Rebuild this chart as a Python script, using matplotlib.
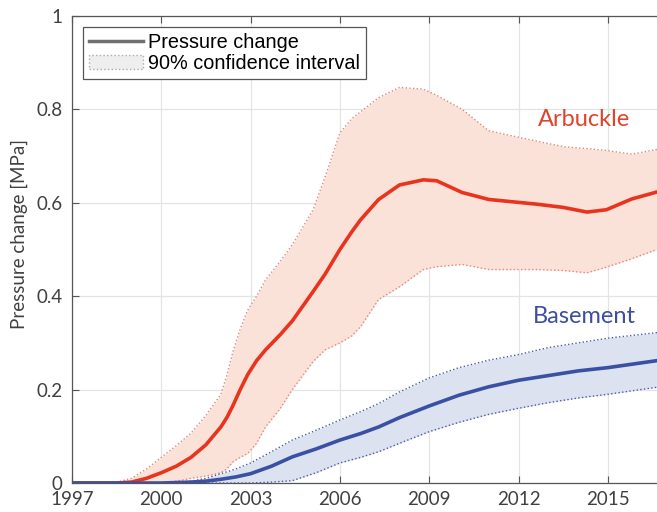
import matplotlib.pyplot as plt
from matplotlib.lines import Line2D
from matplotlib.patches import Patch

# Arbuckle
arb_year = [1997, 1998, 1998.5, 1999, 1999.5, 2000, 2000.5, 2001, 2001.5, 2002, 2002.2, 2002.4,
            2002.65, 2002.9, 2003.2, 2003.5, 2004, 2004.4, 2005.1, 2005.5, 2006, 2006.4, 2006.7,
            2007.3, 2008, 2008.8, 2009.25, 2010.1, 2011, 2012.6, 2013.5, 2014.3, 2014.95,
            2015.8, 2016.65]
arb_mean = [0, 0, 0, 0.002, 0.01, 0.022, 0.036, 0.055, 0.082, 0.12, 0.14, 0.165,
            0.2, 0.232, 0.262, 0.285, 0.318, 0.347, 0.41, 0.447, 0.5, 0.538, 0.564,
            0.607, 0.638, 0.649, 0.647, 0.622, 0.607, 0.597, 0.59, 0.58, 0.585,
            0.608, 0.623]
arb_hi = [0, 0, 0.002, 0.01, 0.03, 0.055, 0.08, 0.107, 0.145, 0.19, 0.23, 0.28,
          0.33, 0.37, 0.4, 0.435, 0.475, 0.51, 0.585, 0.655, 0.75, 0.78, 0.795,
          0.825, 0.847, 0.843, 0.83, 0.80, 0.754, 0.732, 0.72, 0.716, 0.712,
          0.704, 0.714]
arb_lo = [0, 0, 0, 0, 0, 0, 0.004, 0.01, 0.015, 0.022, 0.03, 0.045,
          0.055, 0.063, 0.085, 0.12, 0.16, 0.2, 0.26, 0.285, 0.3, 0.315, 0.335,
          0.393, 0.42, 0.457, 0.463, 0.468, 0.457, 0.457, 0.455, 0.45, 0.462,
          0.48, 0.5]

# Basement
bas_year = [1997, 1999, 2000, 2001, 2001.5, 2002, 2002.5, 2003, 2003.7, 2004.4, 2005.2, 2006,
            2006.7, 2007.3, 2008, 2009, 2010, 2011, 2012, 2013, 2014, 2015, 2016.65]
bas_mean = [0, 0, 0, 0.002, 0.004, 0.008, 0.013, 0.02, 0.036, 0.056, 0.073, 0.092,
            0.106, 0.12, 0.14, 0.165, 0.188, 0.206, 0.22, 0.23, 0.24, 0.247, 0.262]
bas_hi = [0, 0, 0, 0.004, 0.01, 0.02, 0.03, 0.043, 0.067, 0.092, 0.113, 0.135,
          0.153, 0.17, 0.195, 0.225, 0.247, 0.263, 0.275, 0.29, 0.3, 0.31, 0.322]
bas_lo = [0, 0, 0, 0, 0, 0, 0, 0, 0.002, 0.005, 0.022, 0.043,
          0.055, 0.067, 0.085, 0.11, 0.13, 0.147, 0.16, 0.172, 0.182, 0.19, 0.205]

x_ticks = [1997, 2000, 2003, 2006, 2009, 2012, 2015]
y_ticks = [0, 0.2, 0.4, 0.6, 0.8, 1]
y_labels = ['0', '0.2', '0.4', '0.6', '0.8', '1']

red = '#e8341f'
blue = '#3a50a2'

fig = plt.figure(figsize=(6.57, 5.12), dpi=100)
ax = fig.add_axes([0.1096, 0.0566, 0.8904, 0.9124])

ax.fill_between(arb_year, arb_lo, arb_hi, color='#fbe2d8', lw=0, zorder=1)
ax.plot(arb_year, arb_hi, ls=':', color='#e08a7a', lw=1, zorder=2)
ax.plot(arb_year, arb_lo, ls=':', color='#e08a7a', lw=1, zorder=2)

ax.fill_between(bas_year, bas_lo, bas_hi, color='#dce2f0', lw=0, zorder=1)
ax.plot(bas_year, bas_hi, ls=':', color='#4a5aa8', lw=1, zorder=2)
ax.plot(bas_year, bas_lo, ls=':', color='#4a5aa8', lw=1, zorder=2)

ax.plot(arb_year, arb_mean, color=red, lw=2.6, zorder=3)
ax.plot(bas_year, bas_mean, color=blue, lw=2.6, zorder=4)

ax.text(2014.2, 0.779, 'Arbuckle', color='#e0432c', fontsize=17, family='Lato',
        ha='center', va='center')
ax.text(2014.2, 0.356, 'Basement', color='#3d4f9e', fontsize=17, family='Lato',
        ha='center', va='center')

ax.set_xlim(1997, 2016.65)
ax.set_ylim(0, 1)
ax.set_xticks(x_ticks)
ax.set_yticks(y_ticks)
ax.set_yticklabels(y_labels)
ax.grid(True, color='#e4e4e4', lw=0.9)
ax.set_axisbelow(True)
ax.tick_params(direction='in', length=5, top=True, right=False, colors='#555555',
               labelcolor='#404040', labelsize=13.5)
for lab in ax.get_xticklabels() + ax.get_yticklabels():
    lab.set_family('Lato')
ax.tick_params(axis='x', pad=6)
ax.tick_params(axis='y', pad=7)
for s in ['left', 'bottom', 'top']:
    ax.spines[s].set_color('#555555')
    ax.spines[s].set_linewidth(0.9)
ax.spines['right'].set_visible(False)
ax.set_ylabel('Pressure change [MPa]', fontsize=13.5, family='Lato', color='#404040')
ax.yaxis.set_label_coords(-0.075, 0.532)

handles = [Line2D([], [], color='#707070', lw=2.5),
           Patch(facecolor='#eeeeee', edgecolor='#aaaaaa', ls=':', lw=1)]
leg = ax.legend(handles, ['Pressure change', '90% confidence interval'], loc='upper left',
                bbox_to_anchor=(0.019, 0.976), fancybox=False, edgecolor='#555555',
                framealpha=1, prop={'family': 'Liberation Sans', 'size': 14.3},
                handlelength=2.7, handletextpad=0.25, borderpad=0.3, labelspacing=0.1,
                borderaxespad=0)
leg.get_frame().set_linewidth(0.9)

fig.savefig('out.png', dpi=100)
